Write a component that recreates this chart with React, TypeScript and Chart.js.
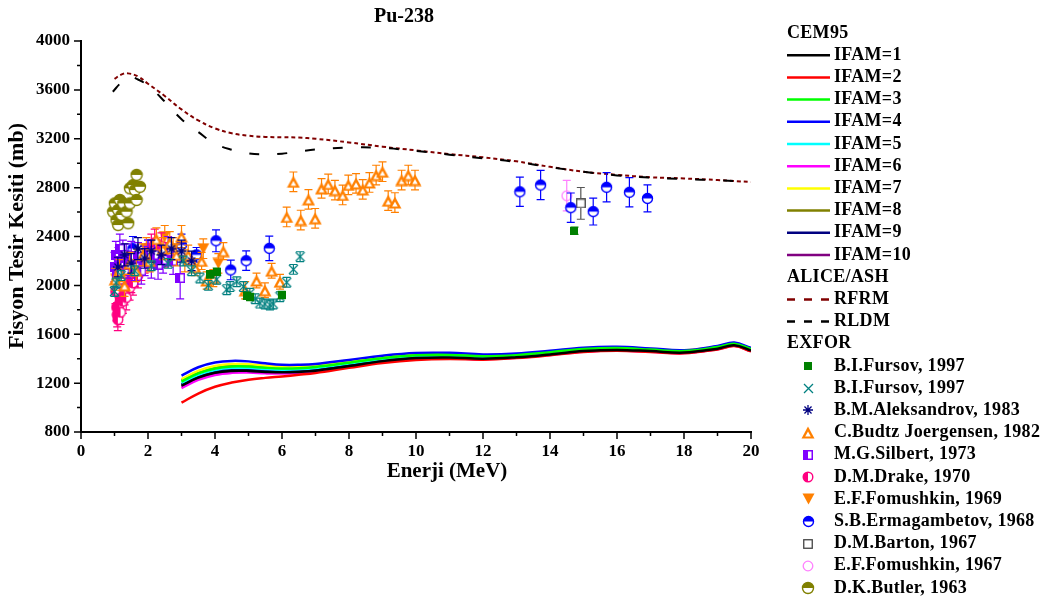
import React, { useEffect, useRef } from 'react';
import { Chart, registerables } from 'chart.js';

Chart.register(...registerables);

const SERIF = '"Liberation Serif", "Times New Roman", Times, serif';

// ---------- axes ----------
const xMajorTicks = [0, 2, 4, 6, 8, 10, 12, 14, 16, 18, 20];
const xMinorTicks = [1, 3, 5, 7, 9, 11, 13, 15, 17, 19];
const yMajorTicks = [800, 1200, 1600, 2000, 2400, 2800, 3200, 3600, 4000];
const yMinorTicks = [1000, 1400, 1800, 2200, 2600, 3000, 3400, 3800];

// ---------- CEM95 curves ----------
const cemEnergy = [3, 3.5, 4, 4.5, 5, 5.5, 6, 6.5, 7, 8, 9, 10, 11, 12, 13, 14, 15, 16, 17, 18, 19, 19.5, 20];
const ifam1 = [1180, 1245, 1285, 1300, 1300, 1292, 1288, 1292, 1302, 1340, 1380, 1405, 1410, 1400, 1412, 1435, 1462, 1472, 1462, 1450, 1482, 1510, 1466];
const ifam2 = [1040, 1115, 1170, 1205, 1228, 1243, 1255, 1268, 1283, 1325, 1365, 1390, 1398, 1392, 1405, 1428, 1455, 1465, 1455, 1444, 1476, 1503, 1460];
const ifam3 = [1212, 1280, 1320, 1337, 1336, 1326, 1320, 1322, 1332, 1367, 1404, 1428, 1431, 1420, 1429, 1453, 1479, 1487, 1475, 1462, 1495, 1522, 1479];
const ifam4 = [1262, 1330, 1368, 1382, 1378, 1362, 1350, 1350, 1357, 1390, 1425, 1447, 1448, 1435, 1442, 1465, 1490, 1497, 1484, 1470, 1504, 1532, 1488];
const ifam5 = [1202, 1268, 1308, 1325, 1325, 1315, 1310, 1313, 1323, 1360, 1397, 1421, 1425, 1415, 1424, 1448, 1475, 1484, 1472, 1459, 1492, 1519, 1476];
const ifam6 = [1160, 1226, 1267, 1284, 1286, 1280, 1278, 1283, 1294, 1333, 1373, 1398, 1404, 1395, 1407, 1430, 1457, 1467, 1457, 1446, 1478, 1505, 1462];
const ifam7 = [1232, 1300, 1340, 1356, 1354, 1342, 1334, 1336, 1344, 1378, 1414, 1437, 1440, 1428, 1436, 1459, 1485, 1493, 1480, 1467, 1500, 1527, 1484];
const ifam8 = [1222, 1290, 1330, 1346, 1345, 1334, 1327, 1329, 1338, 1373, 1409, 1432, 1435, 1424, 1432, 1456, 1482, 1490, 1477, 1464, 1497, 1524, 1481];
const ifam9 = [1190, 1256, 1296, 1312, 1312, 1303, 1299, 1302, 1312, 1350, 1388, 1413, 1418, 1408, 1418, 1442, 1469, 1479, 1468, 1455, 1488, 1515, 1472];
const ifam10 = [1172, 1238, 1278, 1294, 1295, 1288, 1285, 1289, 1300, 1338, 1377, 1402, 1407, 1398, 1410, 1433, 1460, 1470, 1460, 1448, 1480, 1507, 1464];

// ---------- ALICE/ASH curves ----------
const rfrmEnergy = [1.0, 1.2, 1.4, 1.7, 2, 2.5, 3, 3.5, 4, 4.5, 5, 5.5, 6, 6.5, 7, 8, 9, 10, 11, 12, 13, 14, 15, 16, 17, 18, 19, 20];
const rfrmValues = [3690, 3725, 3735, 3710, 3650, 3550, 3440, 3350, 3285, 3245, 3225, 3215, 3212, 3210, 3200, 3170, 3135, 3105, 3075, 3048, 3015, 2970, 2930, 2905, 2885, 2875, 2862, 2846];
const rldmEnergy = [0.95, 1.2, 1.45, 1.7, 2, 2.5, 3, 3.5, 4, 4.5, 5, 5.5, 6, 6.5, 7, 8, 9, 10, 11, 12, 13, 14, 15, 16, 17, 18, 19, 20];
const rldmValues = [3585, 3660, 3705, 3685, 3635, 3505, 3360, 3255, 3160, 3110, 3080, 3072, 3078, 3095, 3112, 3128, 3125, 3100, 3070, 3040, 3010, 2968, 2930, 2900, 2882, 2870, 2860, 2846];

// ---------- EXFOR data: [energy MeV, sigma mb, error mb] ----------
const fursovSquares = [[3.85, 2090, 30], [4.05, 2112, 30], [4.95, 1915, 30], [5.05, 1905, 30], [5.99, 1921, 30], [14.73, 2447, 30]];
const fursovCrosses = [[1.0, 1950, 40], [1.05, 2020, 40], [1.2, 2080, 40], [1.6, 2120, 40], [2.1, 2160, 40], [2.6, 2180, 40], [3.05, 2200, 40], [3.3, 2120, 40], [3.55, 2060, 40], [3.8, 2000, 40], [4.05, 2050, 40], [4.35, 1965, 40], [4.45, 1990, 40], [4.65, 2030, 40], [4.85, 1990, 40], [5.04, 1935, 40], [5.2, 1890, 40], [5.34, 1855, 40], [5.49, 1848, 40], [5.64, 1840, 40], [5.74, 1848, 40], [5.94, 1907, 40], [6.14, 2025, 40], [6.34, 2131, 40], [6.54, 2235, 40]];
const aleksandrov = [[1.1, 2150, 80], [1.3, 2250, 90], [1.5, 2180, 80], [1.7, 2300, 90], [1.9, 2220, 80], [2.1, 2280, 90], [2.4, 2250, 80], [2.7, 2300, 90], [3.0, 2280, 90], [3.3, 2200, 80]];
const budtz = [[1.02, 2050, 90], [1.15, 2120, 90], [1.3, 2000, 90], [1.45, 2180, 90], [1.65, 2120, 90], [1.85, 2250, 90], [2.05, 2200, 90], [2.25, 2380, 90], [2.45, 2300, 90], [2.65, 2350, 90], [2.85, 2250, 90], [3.0, 2400, 90], [3.2, 2250, 80], [3.4, 2150, 70], [3.6, 2200, 70], [3.75, 2040, 70], [3.95, 2060, 70], [4.25, 2280, 70], [4.9, 1960, 70], [5.24, 2040, 60], [5.49, 1960, 60], [5.69, 2120, 60], [5.94, 2030, 60], [6.14, 2560, 80], [6.34, 2848, 80], [6.56, 2535, 80], [6.79, 2704, 80], [6.99, 2549, 80], [7.18, 2794, 80], [7.38, 2830, 80], [7.58, 2780, 80], [7.81, 2740, 80], [7.98, 2822, 80], [8.21, 2835, 80], [8.41, 2786, 80], [8.61, 2842, 80], [8.81, 2903, 80], [9.0, 2930, 80], [9.17, 2693, 80], [9.37, 2678, 80], [9.57, 2862, 80], [9.77, 2903, 80], [9.97, 2862, 80]];
const silbert = [[1.0, 2150, 120], [1.04, 2250, 110], [1.08, 2100, 120], [1.12, 2200, 110], [1.16, 2300, 120], [1.2, 2180, 110], [1.25, 2250, 120], [1.3, 2120, 110], [1.35, 2220, 120], [1.4, 2170, 110], [1.5, 2240, 120], [1.6, 2150, 110], [1.7, 2230, 120], [1.8, 2120, 110], [1.9, 2200, 120], [2.0, 2260, 110], [2.1, 2180, 120], [2.2, 2250, 110], [2.3, 2170, 120], [2.45, 2210, 110], [2.6, 2280, 120], [2.75, 2200, 110], [2.96, 2060, 170]];
const drake = [[1.03, 1950, 100], [1.06, 1820, 110], [1.08, 1760, 100], [1.1, 1720, 90], [1.12, 1800, 100], [1.15, 1850, 110], [1.18, 1780, 100], [1.2, 1900, 110], [1.25, 1870, 100], [1.3, 1950, 110], [1.35, 1900, 100], [1.4, 2000, 110], [1.45, 1980, 100], [1.5, 2050, 110], [1.55, 2020, 100], [1.6, 2100, 110], [1.7, 2080, 100], [1.8, 2150, 110], [1.9, 2200, 100], [2.0, 2230, 110], [2.1, 2300, 120], [2.2, 2350, 110], [2.3, 2260, 110], [2.4, 2320, 110], [2.5, 2250, 100]];
const fomushkin1969 = [[1.05, 2050, 90], [1.25, 2150, 90], [1.45, 2100, 90], [1.7, 2200, 90], [1.95, 2300, 90], [2.2, 2250, 90], [2.5, 2400, 90], [2.75, 2300, 90], [3.1, 2200, 90], [3.65, 2300, 80], [4.1, 2180, 80]];
const ermagambetov = [[1.25, 2180, 90], [1.55, 2300, 100], [2.0, 2270, 100], [2.5, 2250, 90], [3.0, 2330, 90], [3.45, 2250, 60], [4.03, 2365, 90], [4.47, 2126, 80], [4.93, 2202, 80], [5.62, 2303, 100], [13.1, 2766, 120], [13.72, 2821, 120], [14.62, 2636, 120], [15.29, 2604, 110], [15.69, 2803, 120], [16.37, 2762, 120], [16.91, 2712, 110]];
const barton = [[14.92, 2671, 130]];
const fomushkin1967 = [[14.5, 2734, 125]];
const butler = [[0.96, 2603, 0], [1.01, 2671, 0], [1.06, 2535, 0], [1.11, 2494, 0], [1.11, 2617, 0], [1.16, 2699, 0], [1.21, 2576, 0], [1.26, 2671, 0], [1.36, 2603, 0], [1.41, 2508, 0], [1.46, 2671, 0], [1.46, 2794, 0], [1.56, 2821, 0], [1.61, 2780, 0], [1.66, 2699, 0], [1.66, 2904, 0], [1.76, 2807, 0]];

// ---------- labels & styles ----------
const cemLabels = ['IFAM=1', 'IFAM=2', 'IFAM=3', 'IFAM=4', 'IFAM=5', 'IFAM=6', 'IFAM=7', 'IFAM=8', 'IFAM=9', 'IFAM=10'];
const cemSeries = [ifam1, ifam2, ifam3, ifam4, ifam5, ifam6, ifam7, ifam8, ifam9, ifam10];
const cemColors = ['#000000', '#FF0000', '#00FF00', '#0000FF', '#00FFFF', '#FF00FF', '#FFFF00', '#808000', '#000080', '#800080'];
const exforLabels = ['B.I.Fursov, 1997', 'B.I.Fursov, 1997', 'B.M.Aleksandrov, 1983', 'C.Budtz Joergensen, 1982', 'M.G.Silbert, 1973', 'D.M.Drake, 1970', 'E.F.Fomushkin, 1969', 'S.B.Ermagambetov, 1968', 'D.M.Barton, 1967', 'E.F.Fomushkin, 1967', 'D.K.Butler, 1963'];
const exforSeries = [fursovSquares, fursovCrosses, aleksandrov, budtz, silbert, drake, fomushkin1969, ermagambetov, barton, fomushkin1967, butler];
const exforColors = ['#008000', '#008080', '#000080', '#FF8000', '#8000FF', '#FF0080', '#FF8000', '#0000FF', '#555555', '#FF80FF', '#808000'];

function mk(w: number, h: number, draw: (g: CanvasRenderingContext2D) => void) {
  const c = document.createElement('canvas');
  c.width = w;
  c.height = h;
  const g = c.getContext('2d')!;
  draw(g);
  return c;
}

function buildMarkers() {
  const halfTopCircle = (color: string, r: number) => {
    const s = Math.ceil(2 * r + 3);
    const c = s / 2;
    return mk(s, s, (g) => {
      g.fillStyle = '#fff';
      g.beginPath(); g.arc(c, c, r, 0, Math.PI * 2); g.fill();
      g.fillStyle = color;
      g.beginPath(); g.arc(c, c, r, Math.PI, Math.PI * 2); g.closePath(); g.fill();
      g.strokeStyle = color; g.lineWidth = 1.4;
      g.beginPath(); g.arc(c, c, r, 0, Math.PI * 2); g.stroke();
    });
  };
  return [
    mk(8, 8, (g) => { g.fillStyle = '#008000'; g.fillRect(0, 0, 8, 8); }),
    mk(11, 11, (g) => {
      g.strokeStyle = '#008080'; g.lineWidth = 1.3; g.beginPath();
      g.moveTo(1, 1); g.lineTo(10, 10); g.moveTo(10, 1); g.lineTo(1, 10); g.stroke();
    }),
    mk(12, 12, (g) => {
      g.strokeStyle = '#000080'; g.lineWidth = 1.3; g.beginPath();
      for (let k = 0; k < 4; k++) {
        const a = (k * Math.PI) / 4;
        g.moveTo(6 + 5 * Math.cos(a), 6 + 5 * Math.sin(a));
        g.lineTo(6 - 5 * Math.cos(a), 6 - 5 * Math.sin(a));
      }
      g.stroke();
    }),
    mk(14, 13, (g) => {
      g.fillStyle = '#FF8000'; g.beginPath();
      g.moveTo(7, 0.5); g.lineTo(13.5, 12.5); g.lineTo(0.5, 12.5); g.closePath(); g.fill();
      g.fillStyle = '#fff'; g.beginPath();
      g.moveTo(7, 5.5); g.lineTo(9.8, 10.5); g.lineTo(4.2, 10.5); g.closePath(); g.fill();
    }),
    mk(10, 10, (g) => {
      g.fillStyle = '#fff'; g.fillRect(0, 0, 10, 10);
      g.fillStyle = '#8000FF'; g.fillRect(0, 0, 5, 10);
      g.strokeStyle = '#8000FF'; g.lineWidth = 1.5; g.strokeRect(0.75, 0.75, 8.5, 8.5);
    }),
    mk(12, 12, (g) => {
      g.fillStyle = '#fff'; g.beginPath(); g.arc(6, 6, 4.8, 0, Math.PI * 2); g.fill();
      g.fillStyle = '#FF0080'; g.beginPath(); g.arc(6, 6, 4.8, Math.PI / 2, (3 * Math.PI) / 2); g.closePath(); g.fill();
      g.strokeStyle = '#FF0080'; g.lineWidth = 1.4; g.beginPath(); g.arc(6, 6, 4.8, 0, Math.PI * 2); g.stroke();
    }),
    mk(13, 12, (g) => {
      g.fillStyle = '#FF8000'; g.beginPath();
      g.moveTo(0.5, 0.5); g.lineTo(12.5, 0.5); g.lineTo(6.5, 11.5); g.closePath(); g.fill();
    }),
    halfTopCircle('#0000FF', 5),
    mk(10, 10, (g) => {
      g.fillStyle = '#fff'; g.fillRect(0, 0, 10, 10);
      g.strokeStyle = '#444'; g.lineWidth = 1.3; g.strokeRect(0.75, 0.75, 8.5, 8.5);
    }),
    mk(12, 12, (g) => {
      g.strokeStyle = '#FF80FF'; g.lineWidth = 1.3; g.beginPath(); g.arc(6, 6, 4.8, 0, Math.PI * 2); g.stroke();
    }),
    halfTopCircle('#808000', 5.5),
  ];
}

const errorBarPlugin = {
  id: 'errorBars',
  beforeDatasetDraw(chart: any, args: any) {
    const ds = chart.data.datasets[args.index];
    if (!ds.errors) return;
    const ctx = chart.ctx;
    const y = chart.scales.y;
    ctx.save();
    ctx.strokeStyle = ds.errorColor;
    ctx.lineWidth = 1.2;
    args.meta.data.forEach((pt: any, i: number) => {
      const e = ds.errors[i];
      if (!e) return;
      const v = ds.data[i].y;
      const top = y.getPixelForValue(v + e);
      const bot = y.getPixelForValue(v - e);
      const x = pt.x;
      ctx.beginPath();
      ctx.moveTo(x, top); ctx.lineTo(x, bot);
      ctx.moveTo(x - 4, top); ctx.lineTo(x + 4, top);
      ctx.moveTo(x - 4, bot); ctx.lineTo(x + 4, bot);
      ctx.stroke();
    });
    ctx.restore();
  },
};

function makeDecorPlugin(markers: HTMLCanvasElement[]) {
  return {
    id: 'decor',
    afterDraw(chart: any) {
      const ctx: CanvasRenderingContext2D = chart.ctx;
      const xs = chart.scales.x;
      const ys = chart.scales.y;
      const area = chart.chartArea;
      ctx.save();
      // ticks
      ctx.strokeStyle = '#000';
      ctx.lineWidth = 1.5;
      ctx.beginPath();
      xMajorTicks.forEach((v) => { const p = xs.getPixelForValue(v); ctx.moveTo(p, area.bottom); ctx.lineTo(p, area.bottom + 7); });
      xMinorTicks.forEach((v) => { const p = xs.getPixelForValue(v); ctx.moveTo(p, area.bottom); ctx.lineTo(p, area.bottom + 4); });
      yMajorTicks.forEach((v) => { const p = ys.getPixelForValue(v); ctx.moveTo(area.left, p); ctx.lineTo(area.left - 7, p); });
      yMinorTicks.forEach((v) => { const p = ys.getPixelForValue(v); ctx.moveTo(area.left, p); ctx.lineTo(area.left - 4, p); });
      ctx.stroke();

      // titles
      ctx.fillStyle = '#000';
      ctx.textBaseline = 'middle';
      ctx.textAlign = 'center';
      ctx.font = `bold 20px ${SERIF}`;
      ctx.fillText('Pu-238', 404, 17);
      ctx.font = `bold 21px ${SERIF}`;
      ctx.fillText('Enerji (MeV)', 447, 472);
      ctx.save();
      ctx.translate(17, 236);
      ctx.rotate(-Math.PI / 2);
      ctx.font = `bold 22px ${SERIF}`;
      ctx.fillText('Fisyon Tesir Kesiti (mb)', 0, 0);
      ctx.restore();

      // legend
      const rowY = (k: number) => 33 + 22.2 * k;
      ctx.textAlign = 'left';
      ctx.font = `bold 18px ${SERIF}`;
      (ctx as any).letterSpacing = '0.3px';
      ctx.fillText('CEM95', 787, rowY(0));
      cemLabels.forEach((lab, i) => {
        const yy = rowY(1 + i);
        ctx.strokeStyle = cemColors[i];
        ctx.lineWidth = 2.5;
        ctx.setLineDash([]);
        ctx.beginPath(); ctx.moveTo(787, yy); ctx.lineTo(830, yy); ctx.stroke();
        ctx.fillStyle = '#000';
        ctx.fillText(lab, 834, yy);
      });
      ctx.fillText('ALICE/ASH', 787, rowY(11));
      [['RFRM', '#800000'], ['RLDM', '#000000']].forEach(([lab, col], i) => {
        const yy = rowY(12 + i);
        ctx.strokeStyle = col;
        ctx.lineWidth = 2.5;
        ctx.setLineDash([8, 9]);
        ctx.beginPath(); ctx.moveTo(787, yy); ctx.lineTo(830, yy); ctx.stroke();
        ctx.setLineDash([]);
        ctx.fillStyle = '#000';
        ctx.fillText(lab, 834, yy);
      });
      ctx.fillText('EXFOR', 787, rowY(14));
      exforLabels.forEach((lab, i) => {
        const yy = rowY(15 + i);
        const m = markers[i];
        ctx.drawImage(m, Math.round(808 - m.width / 2), Math.round(yy - m.height / 2));
        ctx.fillStyle = '#000';
        ctx.fillText(lab, 834, yy);
      });
      ctx.restore();
    },
  };
}

export default function App() {
  const ref = useRef<HTMLCanvasElement>(null);

  useEffect(() => {
    if (!ref.current) return;
    const markers = buildMarkers();

    const scatterSets = exforSeries.map((series, i) => ({
      label: exforLabels[i],
      data: series.map((p) => ({ x: p[0], y: p[1] })),
      errors: series.map((p) => p[2]),
      errorColor: exforColors[i],
      showLine: false,
      pointStyle: markers[i],
      pointRadius: 5,
      order: 1,
    }));

    const aliceSets = [
      { label: 'RLDM', data: rldmEnergy.map((x, i) => ({ x, y: rldmValues[i] })), borderColor: '#000000', borderDash: [10, 18] },
      { label: 'RFRM', data: rfrmEnergy.map((x, i) => ({ x, y: rfrmValues[i] })), borderColor: '#800000', borderDash: [4, 3] },
    ].map((d) => ({ ...d, showLine: true, pointRadius: 0, borderWidth: 2, tension: 0.4, fill: false, order: 2 }));

    const cemSets = cemSeries.map((vals, i) => ({
      label: cemLabels[i],
      data: cemEnergy.map((x, j) => ({ x, y: vals[j] })),
      borderColor: cemColors[i],
      borderWidth: 2.5,
      showLine: true,
      pointRadius: 0,
      tension: 0.4,
      fill: false,
      order: 3,
    }));

    const tickFont = { family: SERIF, size: 17, weight: 'bold' as const };

    const chart = new Chart(ref.current, {
      type: 'scatter',
      data: { datasets: [...scatterSets, ...aliceSets, ...cemSets] as any },
      options: {
        animation: false,
        responsive: false,
        maintainAspectRatio: false,
        events: [],
        layout: { padding: { left: 0, right: 299, top: 41, bottom: 0 } },
        plugins: { legend: { display: false }, tooltip: { enabled: false }, title: { display: false } },
        scales: {
          x: {
            type: 'linear',
            min: 0,
            max: 20,
            afterFit: (s: any) => { s.height = 167; },
            ticks: { stepSize: 2, padding: 9, color: '#000', font: tickFont, maxRotation: 0, autoSkip: false, callback: (v: any) => String(v) },
            grid: { display: false, drawTicks: false },
            border: { display: true, color: '#000', width: 2 },
          },
          y: {
            type: 'linear',
            min: 800,
            max: 4000,
            afterFit: (s: any) => { s.width = 81; },
            ticks: { stepSize: 400, padding: 11, color: '#000', font: tickFont, callback: (v: any) => String(v) },
            grid: { display: false, drawTicks: false },
            border: { display: true, color: '#000', width: 2 },
          },
        },
      } as any,
      plugins: [errorBarPlugin, makeDecorPlugin(markers)],
    });
    return () => chart.destroy();
  }, []);

  return (
    <div style={{ position: 'fixed', left: 0, top: 0, width: 1050, height: 599, background: '#fff' }}>
      <canvas ref={ref} width={1050} height={599} style={{ display: 'block' }} />
    </div>
  );
}
